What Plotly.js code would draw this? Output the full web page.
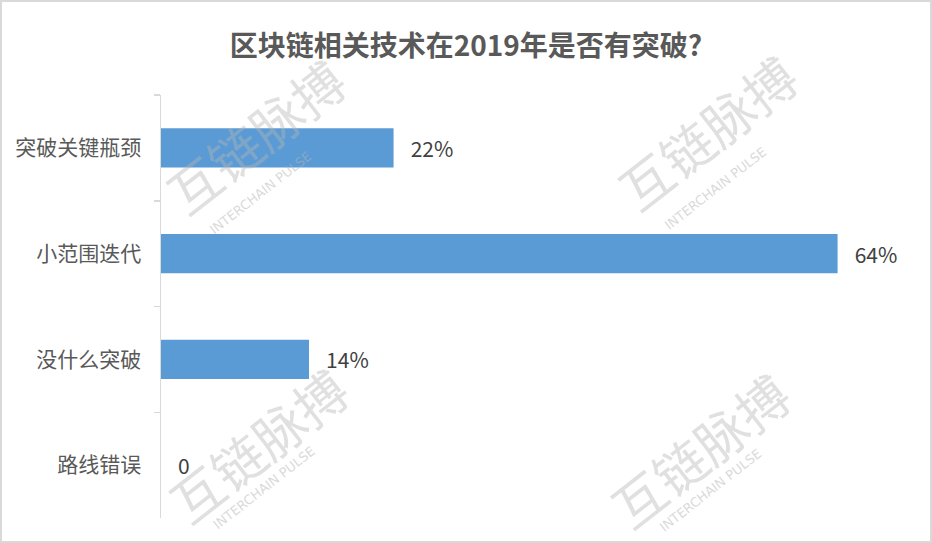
<!DOCTYPE html>
<html><head><meta charset="utf-8">
<script src="https://cdn.plot.ly/plotly-3.0.1.min.js"></script>
<style>
html,body{margin:0;padding:0;background:#fff;}
#wrap{position:relative;width:932px;height:543px;}
#chart{width:932px;height:543px;}
#frame{position:absolute;left:0;top:0;width:928px;height:539px;border:2px solid #d9d9d9;pointer-events:none;}
</style></head>
<body>
<div id="wrap"><div id="chart"></div><div id="frame"></div></div>
<script>
const categories = ["突破关键瓶颈", "小范围迭代", "没什么突破", "路线错误"];
const values = [22, 64, 14, 0];
const valueLabels = ["22%", "64%", "14%", "0"];
const titleText = "区块链相关技术在2019年是否有突破?";
const watermarkText = "互链脉搏";
const watermarkSub = "INTERCHAIN PULSE";

const font = "Noto Sans CJK SC, Microsoft YaHei, sans-serif";

const wm = [];
const wmMain = [[0.127, 0.905], [0.738, 0.913], [0.131, 0.173], [0.728, 0.161]];
const wmSubPos = [[0.135, 0.77], [0.749, 0.78], [0.14, 0.071], [0.742, 0.066]];
wmMain.forEach((p, i) => {
  wm.push({xref: "paper", yref: "paper", x: p[0], y: p[1], xanchor: "center", yanchor: "middle",
    text: watermarkText, showarrow: false,
    textangle: -38, font: {family: font, size: 52, color: "rgba(180,180,180,0.42)"}});
  const s = wmSubPos[i];
  wm.push({xref: "paper", yref: "paper", x: s[0], y: s[1], xanchor: "center", yanchor: "middle",
    text: watermarkSub, showarrow: false,
    textangle: -38, font: {family: "DejaVu Sans", size: 13, color: "rgba(180,180,180,0.5)"}});
});

const trace = {
  type: "bar",
  orientation: "h",
  y: categories,
  x: values,
  text: valueLabels.map(t => "   " + t),
  textposition: "outside",
  textfont: {family: font, size: 21, color: "#404040"},
  cliponaxis: false,
  marker: {color: "#5b9bd5"},
  hoverinfo: "skip"
};

const layout = {
  width: 932, height: 543,
  margin: {l: 161, r: 31, t: 95, b: 25},
  paper_bgcolor: "#ffffff",
  plot_bgcolor: "#ffffff",
  showlegend: false,
  bargap: 0.63,
  title: {text: "<b>" + titleText + "</b>", x: 0.5, xanchor: "center", y: 0.915, yanchor: "middle",
    font: {family: font, size: 28, color: "#595959"}},
  xaxis: {range: [0, 70], visible: false, showgrid: false, zeroline: false, fixedrange: true},
  yaxis: {
    autorange: "reversed",
    showline: true, linecolor: "#d9d9d9", linewidth: 1.5,
    ticks: "outside", tickson: "boundaries", ticklen: 6, tickcolor: "#d9d9d9", tickwidth: 1.5,
    ticklabelstandoff: 14,
    tickfont: {family: font, size: 21, color: "#595959"},
    showgrid: false, zeroline: false, fixedrange: true
  },
  annotations: wm
};

Plotly.newPlot("chart", [trace], layout, {displayModeBar: false, staticPlot: true});
</script>
</body></html>
